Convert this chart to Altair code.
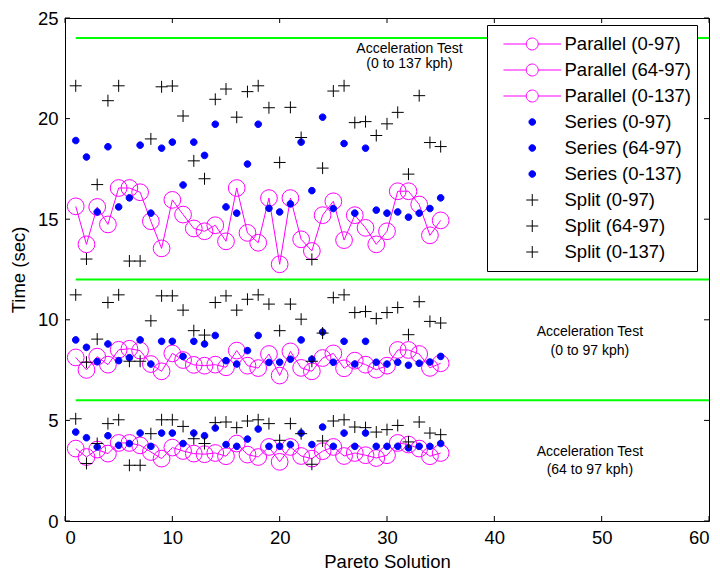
import altair as alt
import pandas as pd

# ---------------- data ----------------
solution = [1, 2, 3, 4, 5, 6, 7, 8, 9, 10, 11, 12, 13, 14, 15, 16, 17, 18,
            19, 20, 21, 22, 23, 24, 25, 26, 27, 28, 29, 30, 31, 32, 33, 34, 35]

parallel_0_97 = [8.13, 7.51, 8.17, 7.77, 8.51, 8.56, 8.47, 7.80, 7.44, 8.33, 8.00, 7.76,
                 7.72, 7.77, 7.64, 8.47, 7.72, 7.60, 8.30, 7.23, 8.43, 7.61, 7.44, 8.10,
                 8.33, 7.59, 7.97, 7.77, 7.52, 7.72, 8.50, 8.50, 8.30, 7.61, 7.84]
parallel_64_97 = [3.60, 3.18, 3.55, 3.35, 3.88, 3.88, 3.76, 3.43, 3.10, 3.65, 3.48, 3.35,
                  3.32, 3.38, 3.22, 3.85, 3.30, 3.18, 3.68, 2.94, 3.68, 3.23, 3.10, 3.47,
                  3.68, 3.23, 3.38, 3.27, 3.13, 3.27, 3.88, 3.80, 3.60, 3.22, 3.38]
parallel_0_137 = [15.64, 13.75, 15.61, 14.74, 16.55, 16.55, 16.34, 14.90, 13.55, 15.96, 15.23,
                  14.54, 14.40, 14.70, 13.90, 16.55, 14.32, 13.83, 16.05, 12.76, 16.05, 14.00,
                  13.42, 15.20, 15.89, 13.96, 15.20, 14.57, 13.75, 14.40, 16.39, 16.39, 15.73,
                  14.20, 14.94]

series_0_97 = [9.00, 8.63, 7.92, 8.80, 7.97, 8.12, 9.00, 7.80, 8.93, 8.93, 8.18, 8.93,
               8.80, 9.22, 7.97, 7.80, 8.47, 9.22, 7.88, 7.89, 8.04, 9.00, 8.04, 9.39,
               7.89, 8.93, 7.80, 8.93, 7.89, 7.80, 7.89, 7.74, 7.84, 7.90, 8.18]
series_64_97 = [4.42, 4.14, 3.68, 4.24, 3.76, 3.85, 4.37, 3.71, 4.37, 4.37, 3.85, 4.37,
                4.24, 4.62, 3.80, 3.71, 4.07, 4.57, 3.71, 3.71, 3.80, 4.37, 3.80, 4.67,
                3.71, 4.37, 3.71, 4.37, 3.71, 3.71, 3.71, 3.63, 3.71, 3.71, 3.85]
series_0_137 = [18.91, 18.09, 15.36, 18.60, 15.61, 16.06, 18.68, 15.30, 18.53, 18.83, 16.70,
                18.83, 18.17, 19.72, 15.61, 15.30, 17.74, 19.72, 15.54, 15.36, 15.76, 18.83,
                16.42, 20.07, 15.53, 18.76, 15.30, 18.53, 15.45, 15.30, 15.36, 15.10, 15.30,
                15.53, 16.06]

split_0_97 = [11.24, 7.89, 9.04, 10.86, 11.24, 7.94, 7.94, 9.95, 11.19, 11.19, 10.48, 9.46,
              9.24, 10.86, 11.19, 10.48, 11.02, 11.24, 10.78, 9.46, 10.78, 10.03, 7.94, 9.34,
              11.10, 11.24, 10.36, 10.41, 10.06, 10.36, 10.61, 9.26, 10.90, 9.92, 9.84]
split_64_97 = [5.08, 2.86, 3.85, 4.84, 5.03, 2.77, 2.77, 4.34, 5.03, 5.03, 4.70, 4.09,
               3.85, 4.89, 4.92, 4.64, 4.97, 5.03, 4.84, 4.01, 4.84, 4.34, 2.82, 3.98,
               4.97, 5.03, 4.67, 4.64, 4.42, 4.54, 4.75, 3.93, 4.92, 4.37, 4.29]
split_0_137 = [21.63, 13.02, 16.72, 20.89, 21.63, 12.92, 12.92, 18.99, 21.58, 21.62, 20.13,
               17.90, 17.01, 20.96, 21.47, 20.07, 21.34, 21.63, 20.54, 17.82, 20.56, 19.06,
               13.00, 17.54, 21.37, 21.63, 19.80, 19.85, 19.16, 19.74, 20.31, 17.24, 21.14,
               18.81, 18.61]

series_names = ["Parallel (0-97)", "Parallel (64-97)", "Parallel (0-137)",
                "Series (0-97)", "Series (64-97)", "Series (0-137)",
                "Split (0-97)", "Split (64-97)", "Split (0-137)"]
series_values = [parallel_0_97, parallel_64_97, parallel_0_137,
                 series_0_97, series_64_97, series_0_137,
                 split_0_97, split_64_97, split_0_137]

limit_levels = [6, 12, 24]
limit_start = [1, 1, 1]
limit_end = [60, 60, 60]

ann_x = [32.1, 32.1, 48.9, 48.9, 48.9, 48.9]
ann_y = [23.48, 22.69, 9.37, 8.47, 3.43, 2.52]
ann_text = ["Acceleration Test", "(0 to 137 kph)",
            "Acceleration Test", "(0 to 97 kph)",
            "Acceleration Test", "(64 to 97 kph)"]

x_ticks = [0, 10, 20, 30, 40, 50, 60]
y_ticks = [0, 5, 10, 15, 20, 25]

# ---------------- tables ----------------
rows = []
for name, vals in zip(series_names, series_values):
    for xv, tv in zip(solution, vals):
        rows.append({"x": xv, "t": tv, "series": name})
df = pd.DataFrame(rows)
par_df = df[df["series"].str.startswith("Parallel")]
oth_df = df[~df["series"].str.startswith("Parallel")]

lim_df = pd.DataFrame({"x": limit_start, "x2": limit_end, "t": limit_levels})
ann_df = pd.DataFrame({"x": ann_x, "t": ann_y, "label": ann_text})
xt_df = pd.DataFrame({"x": x_ticks})
yt_df = pd.DataFrame({"t": y_ticks})

# ---------------- style ----------------
FONT = "Liberation Sans"
MAG = "#ff00ff"
BLUE = "#0000ff"
W, H = 644, 503

PAR_PATH = ("M-4.8,0L-1.0,0M1.0,0L4.8,0"
            "M1.0,0A1.0,1.0,0,1,1,-1.0,0A1.0,1.0,0,1,1,1.0,0")
DOT_PATH = "M0.55,0A0.55,0.55,0,1,1,-0.55,0A0.55,0.55,0,1,1,0.55,0Z"
PLUS_PATH = "M-1,0L1,0M0,-1L0,1"

xs = alt.Scale(domain=[0, 60], nice=False, zero=False)
ys = alt.Scale(domain=[0, 25], nice=False, zero=False)
xax = alt.Axis(values=x_ticks, title="Pareto Solution", labelPadding=7, titlePadding=6,
               labelFlush=3)
yax = alt.Axis(values=y_ticks, title="Time (sec)", labelPadding=7, titlePadding=9,
               labelFlush=False)


def X(field="x"):
    return alt.X(f"{field}:Q", scale=xs, axis=xax)


def Y(field="t"):
    return alt.Y(f"{field}:Q", scale=ys, axis=yax)


green = alt.Chart(lim_df).mark_rule(color="#00ff00", strokeWidth=2).encode(
    x=X(), x2="x2:Q", y=Y())

par_lines = alt.Chart(par_df).mark_line(color=MAG, strokeWidth=1).encode(
    x=X(), y=Y(), detail="series:N")

par_pts = alt.Chart(par_df).mark_point(
    shape="circle", size=280, color=MAG, filled=False, strokeWidth=1, opacity=1
).encode(x=X(), y=Y(), detail="series:N")

leg = alt.Legend(title=None)
colors = [MAG] * 3 + [BLUE] * 3 + ["#000000"] * 3
fills = ["transparent"] * 3 + [BLUE] * 3 + ["transparent"] * 3
shapes = [PAR_PATH] * 3 + [DOT_PATH] * 3 + [PLUS_PATH] * 3

other_pts = alt.Chart(oth_df).mark_point(size=144, strokeWidth=1, opacity=1).encode(
    x=X(), y=Y(),
    color=alt.Color("series:N", scale=alt.Scale(domain=series_names, range=colors), legend=leg),
    fill=alt.Fill("series:N", scale=alt.Scale(domain=series_names, range=fills), legend=leg),
    shape=alt.Shape("series:N", scale=alt.Scale(domain=series_names, range=shapes), legend=leg),
)

ann = alt.Chart(ann_df).mark_text(font=FONT, fontSize=14, color="black").encode(
    x=X(), y=Y(), text="label:N")

tick_left = alt.Chart(yt_df).mark_rule(color="black").encode(
    y=Y(), x=alt.value(0), x2=alt.value(5))
tick_right = alt.Chart(yt_df).mark_rule(color="black").encode(
    y=Y(), x=alt.value(W - 5), x2=alt.value(W))
tick_bottom = alt.Chart(xt_df).mark_rule(color="black").encode(
    x=X(), y=alt.value(H), y2=alt.value(H - 5))
tick_top = alt.Chart(xt_df).mark_rule(color="black").encode(
    x=X(), y=alt.value(0), y2=alt.value(5))

chart = alt.layer(
    green, par_lines, par_pts, other_pts, ann,
    tick_left, tick_right, tick_bottom, tick_top
).properties(
    width=W, height=H,
    autosize=alt.AutoSizeParams(type="none"),
    padding={"left": 57, "top": 10, "right": 3, "bottom": 54},
).configure_view(
    stroke="black", strokeWidth=1
).configure_axis(
    labelFont=FONT, labelFontSize=18.5, labelColor="black",
    titleFont=FONT, titleFontSize=18.5, titleFontWeight="normal", titleColor="black",
    domain=False, ticks=False, tickSize=0, grid=False,
).configure_legend(
    orient="none", legendX=422, legendY=7,
    fillColor="white", strokeColor="black", strokeWidth=1, padding=6,
    labelFont=FONT, labelFontSize=18.5, labelColor="black",
    symbolSize=144, symbolStrokeWidth=1, clipHeight=26, rowPadding=0,
    symbolOffset=30, labelOffset=23,
)

chart.save("out.html", embed_options={"renderer": "svg", "actions": False})
